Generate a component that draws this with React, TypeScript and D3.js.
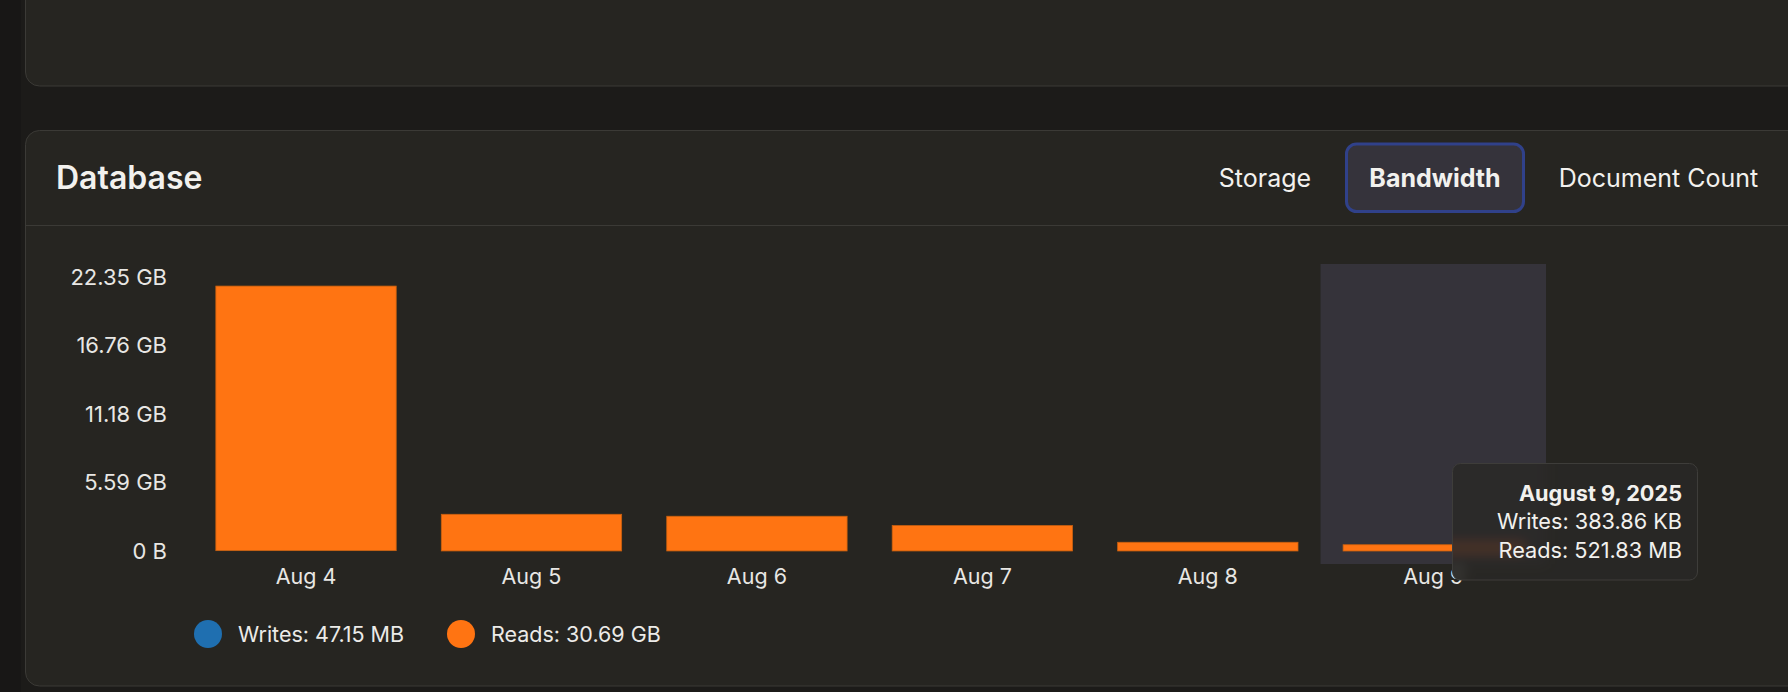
import React, { useMemo } from 'react'
import * as d3 from 'd3'

// daily bandwidth, GB (reads) and MB (writes)
const days = ['Aug 4', 'Aug 5', 'Aug 6', 'Aug 7', 'Aug 8', 'Aug 9']
const readsGB = [21.58, 2.99, 2.83, 2.07, 0.71, 0.51]
const writesMB = [30.2, 5.1, 4.8, 3.9, 2.78, 0.37]
const yTicks = [0, 5.59, 11.18, 16.76, 22.35]
const yTickLabels = ['0 B', '5.59 GB', '11.18 GB', '16.76 GB', '22.35 GB']
const tabs = ['Storage', 'Bandwidth', 'Document Count']
const legendItems = ['Writes: 47.15 MB', 'Reads: 30.69 GB']
const tooltipLines = ['August 9, 2025', 'Writes: 383.86 KB', 'Reads: 521.83 MB']
const activeDay = 'Aug 9'

const W = 1788
const H = 692
const FONT = 'Inter, "Noto Sans", sans-serif'
const ORANGE = '#ff7412'
const BLUE = '#1f6fb0'
const CARD = '#262521'
const BORDER = '#3b3a36'
const TEXT = '#f2f1ee'

const App: React.FC = () => {
  const x = useMemo(
    () => d3.scaleBand<string>().domain(days).range([193.3, 1546]).paddingInner(0.2).paddingOuter(0.1),
    []
  )
  const y = useMemo(() => d3.scaleLinear().domain([0, 22.35]).range([551, 277]), [])

  const step = x.step()
  const bw = x.bandwidth()
  const hx = (x(activeDay) ?? 0) - (step - bw) / 2
  const hTop = y(22.35) - 13
  const hBot = y(0) + 13

  // tooltip box
  const tip = { x: 1452.5, y: 463.5, w: 245, h: 116.5 }

  const bars = days.map((d, i) => {
    const w = writesMB[i] / 1024
    return { d, w, r: readsGB[i] }
  })

  const activeIdx = days.indexOf(activeDay)

  return (
    <svg
      width={W}
      height={H}
      style={{ display: 'block', position: 'absolute', left: 0, top: 0, background: '#1c1b19' }}
      fontFamily={FONT}
    >
      <defs>
        <clipPath id="tipClip">
          <rect x={tip.x} y={tip.y} width={tip.w} height={tip.h} rx={8} />
        </clipPath>
        <filter id="blur" x="-20%" y="-50%" width="140%" height="200%">
          <feGaussianBlur stdDeviation="6" />
        </filter>
      </defs>

      {/* sidebar strip */}
      <rect x={0} y={0} width={21} height={H} fill="#181716" />

      {/* upper card */}
      <rect x={25.5} y={-30} width={1800} height={116} rx={14} fill={CARD} stroke={BORDER} />

      {/* database card */}
      <rect x={25.5} y={130.5} width={1800} height={555.5} rx={14} fill={CARD} stroke={BORDER} />
      <line x1={25.5} x2={W} y1={225.5} y2={225.5} stroke={BORDER} />

      <text x={56} y={189.3} fontSize={32} fontWeight={600} fill={TEXT}>
        Database
      </text>

      {/* tabs */}
      <rect x={1346.5} y={144} width={177} height={67.5} rx={10} fill="#35333b" stroke="#30418a" strokeWidth={3} />
      {tabs.map((t, i) => (
        <text
          key={t}
          x={[1265, 1435, 1658.5][i]}
          y={187}
          fontSize={25}
          fontWeight={t === 'Bandwidth' ? 700 : 400}
          textAnchor="middle"
          fill={TEXT}
        >
          {t}
        </text>
      ))}

      {/* hover highlight */}
      <rect x={hx} y={hTop} width={step} height={hBot - hTop} fill="#35333a" />

      {/* y axis labels */}
      {yTicks.map((t, i) => (
        <text key={t} x={167} y={y(t)} dy="0.36em" fontSize={22} textAnchor="end" fill="#e8e7e4">
          {yTickLabels[i]}
        </text>
      ))}

      {/* stacked bars: writes at the bottom, reads on top */}
      {bars.map(b => (
        <g key={b.d}>
          <rect x={x(b.d)} y={y(b.w)} width={bw} height={y(0) - y(b.w)} fill={BLUE} />
          <rect
            x={x(b.d)}
            y={y(b.w + b.r)}
            width={bw}
            height={y(b.w) - y(b.w + b.r)}
            fill={ORANGE}
            stroke="#c9600f"
            strokeWidth={0.8}
          />
        </g>
      ))}

      {/* x axis labels */}
      {days.map(d => (
        <text key={d} x={(x(d) ?? 0) + bw / 2} y={584} fontSize={21.5} textAnchor="middle" fill="#e8e7e4">
          {d}
        </text>
      ))}

      {/* legend */}
      {legendItems.map((l, i) => (
        <g key={l} transform={`translate(${[208, 461][i]},634)`}>
          <circle r={14} fill={i === 0 ? BLUE : ORANGE} />
          <text x={30} y={7.7} fontSize={21.5} fill="#ecebe8">
            {l}
          </text>
        </g>
      ))}

      {/* tooltip with blurred backdrop */}
      <g clipPath="url(#tipClip)">
        <rect x={tip.x} y={tip.y} width={tip.w} height={tip.h} fill={CARD} />
        <g filter="url(#blur)">
          <rect x={hx} y={hTop} width={step} height={hBot - hTop} fill="#35333a" />
          <rect
            x={x(activeDay)}
            y={y(bars[activeIdx].w + bars[activeIdx].r)}
            width={bw}
            height={y(0) - y(bars[activeIdx].w + bars[activeIdx].r)}
            fill={ORANGE}
          />
          <text x={(x(activeDay) ?? 0) + bw / 2} y={584} fontSize={21.5} textAnchor="middle" fill="#e8e7e4">
            {activeDay}
          </text>
        </g>
        <rect x={tip.x} y={tip.y} width={tip.w} height={tip.h} fill="#292826" fillOpacity={0.82} />
      </g>
      <rect x={tip.x} y={tip.y} width={tip.w} height={tip.h} rx={8} fill="none" stroke="#3e3d3a" />
      {tooltipLines.map((l, i) => (
        <text
          key={l}
          x={1682}
          y={500.7 + i * 28.5}
          fontSize={21.7}
          fontWeight={i === 0 ? 700 : 400}
          textAnchor="end"
          fill={TEXT}
        >
          {l}
        </text>
      ))}
    </svg>
  )
}

export default App
